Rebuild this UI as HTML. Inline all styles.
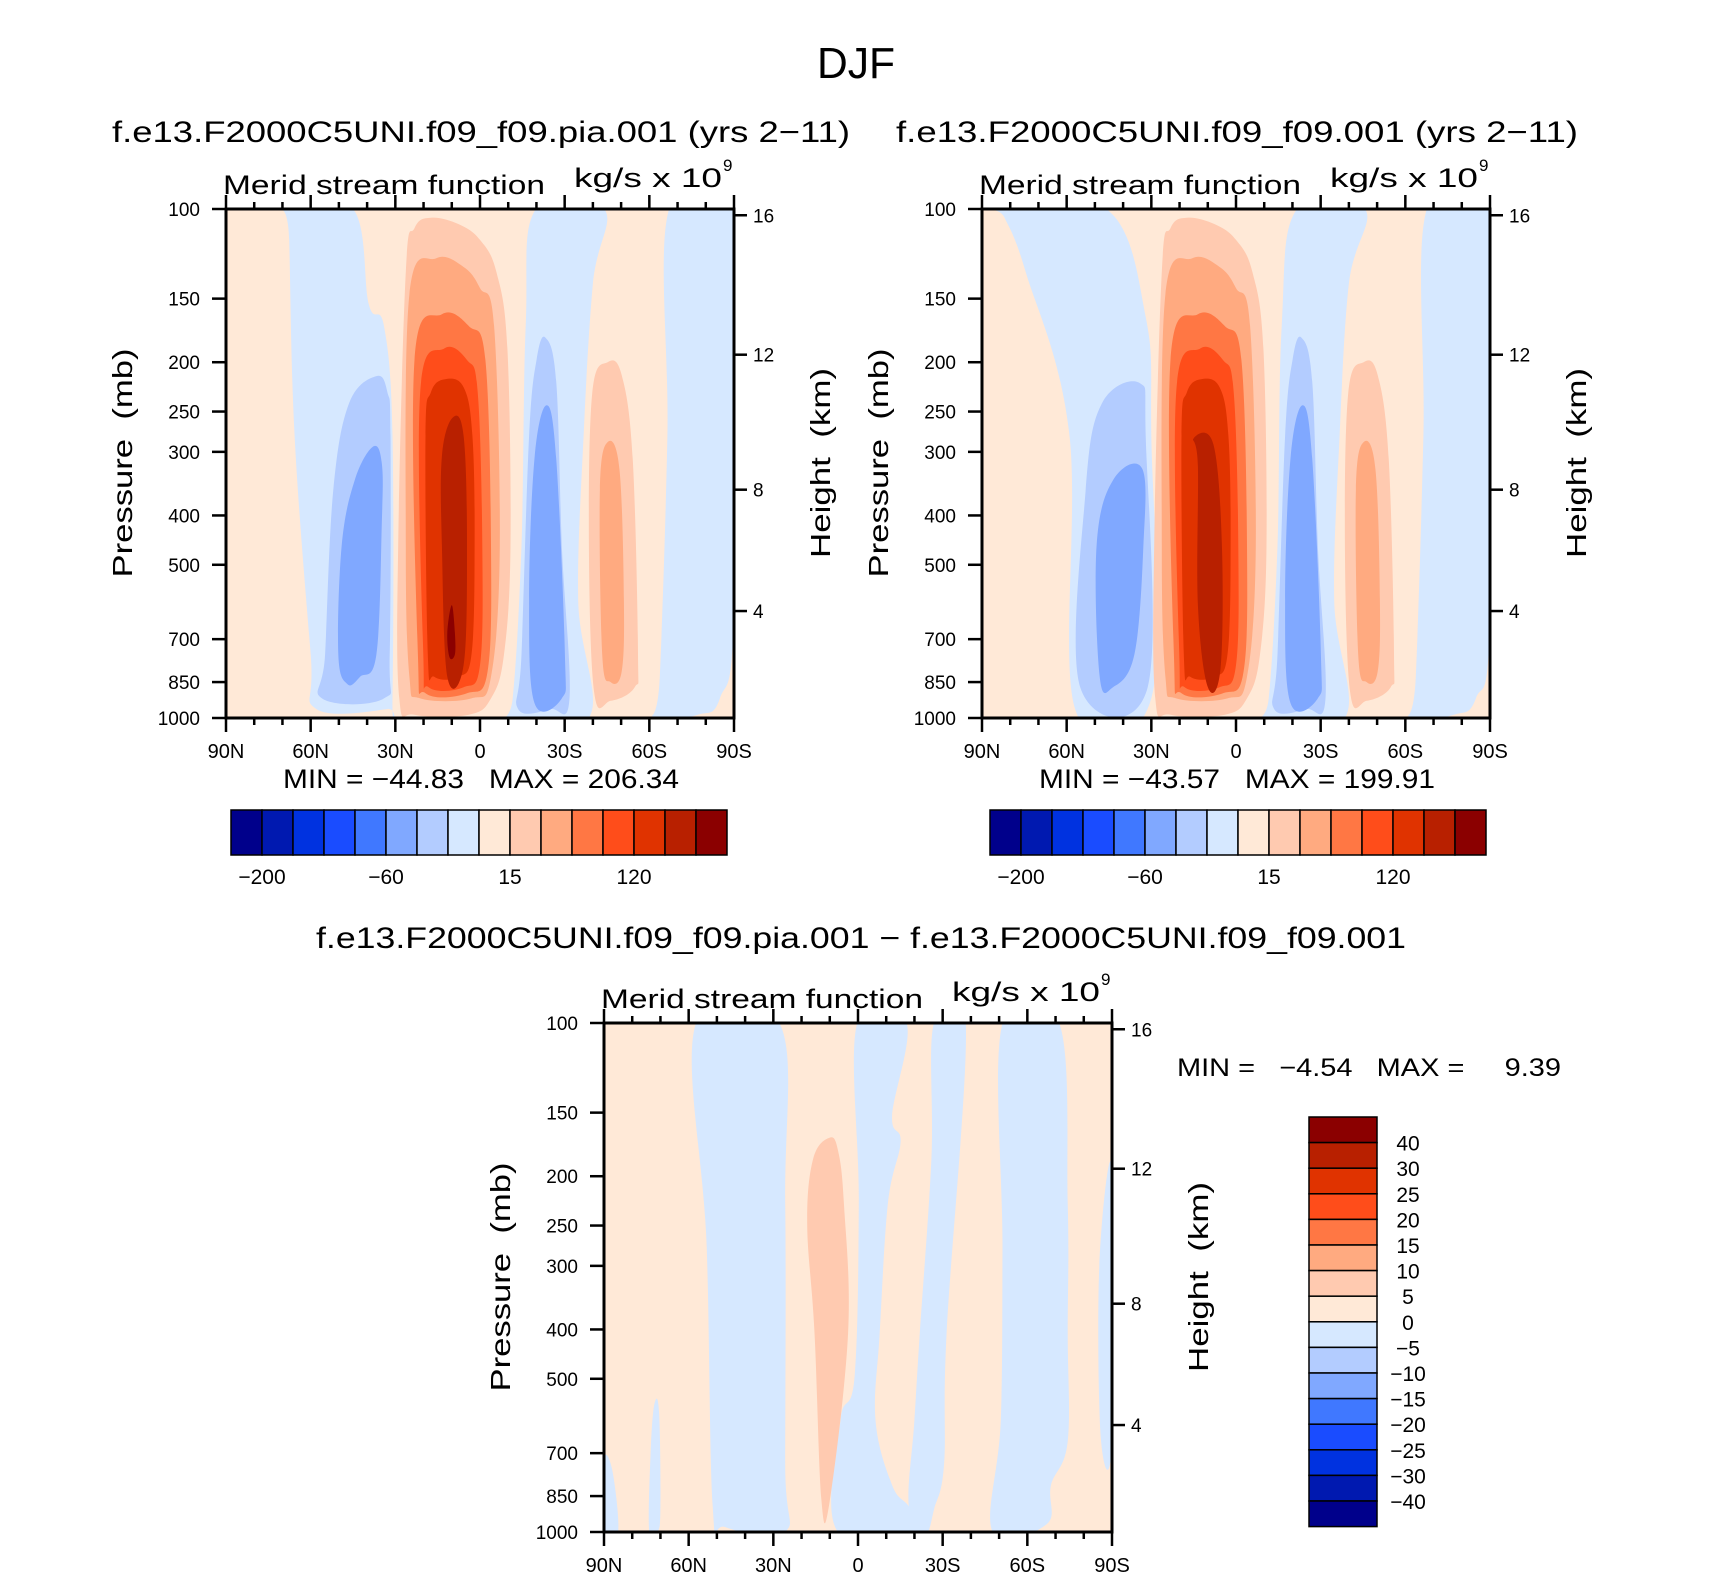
<!DOCTYPE html>
<html>
<head>
<meta charset="utf-8">
<style>
html,body{margin:0;padding:0;background:#fff;}
svg{display:block;font-family:"Liberation Sans",sans-serif;}
text{white-space:pre;}
</style>
</head>
<body>
<svg id="fig" width="1710" height="1579" viewBox="0 0 1710 1579" xmlns="http://www.w3.org/2000/svg" xml:space="preserve">
<rect x="0" y="0" width="1710" height="1579" fill="#fff"/>
<text x="856" y="78" font-size="44" text-anchor="middle" textLength="78" lengthAdjust="spacingAndGlyphs">DJF</text>
<text x="112" y="142" font-size="30" textLength="738" lengthAdjust="spacingAndGlyphs">f.e13.F2000C5UNI.f09_f09.pia.001 (yrs 2−11)</text>
<text x="896" y="142" font-size="30" textLength="682" lengthAdjust="spacingAndGlyphs">f.e13.F2000C5UNI.f09_f09.001 (yrs 2−11)</text>
<text x="316" y="948" font-size="30" textLength="1090" lengthAdjust="spacingAndGlyphs">f.e13.F2000C5UNI.f09_f09.pia.001 − f.e13.F2000C5UNI.f09_f09.001</text>
<text x="283" y="788" font-size="27" textLength="396" lengthAdjust="spacingAndGlyphs">MIN = −44.83   MAX = 206.34</text>
<text x="1039" y="788" font-size="27" textLength="396" lengthAdjust="spacingAndGlyphs">MIN = −43.57   MAX = 199.91</text>
<text x="1177" y="1076" font-size="25" textLength="384" lengthAdjust="spacingAndGlyphs">MIN =   −4.54   MAX =     9.39</text>
<g id="layer"></g>
</svg>
<script>
// ---- colour levels ----
const levelColors = ['#00008b','#0019b0','#0032e0','#1a4cff','#4078ff','#80a8ff','#b3ccff','#d6e8ff','#ffe9d7','#ffcab0','#ffaa80','#ff7744','#ff4d1a','#e03300','#b82000','#8b0000'];
const absCbarLabels = ['−200','−60','15','120'];
const absCbarLabelBoundaries = [1,5,9,13];
const diffCbarLabels = ['40','30','25','20','15','10','5','0','−5','−10','−15','−20','−25','−30','−40'];
const latTicks = [90,60,30,0,-30,-60,-90];
const latTickLabels = ['90N','60N','30N','0','30S','60S','90S'];
const pTicks = [100,150,200,250,300,400,500,700,850,1000];
const zTicks = [4,8,12,16];

// ---- contour regions: [lat, pressure(mb)] ----
const p1Levels = [7,7,7,6,5,6,5,9,10,9,10,11,12,13,14,15];
const p1Regions = [
 [[68,100],[45,100],[39.4,154],[34,170],[31,279],[31,915],[32.8,960],[58,960],[60,750],[65.7,279],[67.6,115]],
 [[-19.8,100],[-44,100],[-40,140],[-36.7,279],[-34.8,588],[-38.6,1000],[-8.5,1000],[-11.6,915],[-14.7,458],[-16.2,170]],
 [[-67,100],[-90,100],[-90,617],[-85,915],[-77.2,985],[-61.8,1000],[-63.7,830],[-66.4,279]],
 [[36.7,213],[46.4,241],[52,358],[54.9,750],[56,915],[34,915],[32,750],[31.7,279],[32.8,229]],
 [[37.9,293],[44.4,341],[49,458],[50.2,750],[47,858],[42.5,830],[36.7,750],[34.8,415],[34.8,316]],
 [[-23.2,179],[-27,218],[-29,458],[-31.7,915],[-25,960],[-13.5,960],[-14.7,750],[-17.4,279],[-20.1,197]],
 [[-23.6,243],[-27,309],[-30.1,750],[-29,915],[-19.3,935],[-17.4,586],[-19.3,309]],
 [[-45.2,200],[-50.2,212],[-54.1,309],[-56,750],[-54.8,870],[-46.3,925],[-40.5,894],[-38.6,458],[-39.8,229]],
 [[-45.2,287],[-49.4,324],[-51,586],[-50.2,810],[-46.3,850],[-43.3,750],[-42.5,355]],
 [[17.4,104],[7.7,107],[0,115],[-5.8,133],[-9.7,188],[-10.8,458],[-8.5,750],[-3.9,915],[3.9,985],[23.2,985],[28.6,915],[29,458],[26.3,133],[23.2,109]],
 [[15.5,125],[5.8,130],[0,143],[-5,170],[-7,458],[-3.9,830],[3,915],[21.2,915],[25,830],[26.3,458],[25,147]],
 [[13.5,161],[3.9,170],[-1.9,198],[-3.9,458],[-2.7,810],[4.6,894],[19.3,894],[22,750],[23.2,198]],
 [[12.7,188],[4.6,198],[0.8,229],[-0.8,458],[0,787],[5.8,870],[18.2,870],[20.1,750],[21.2,229]],
 [[12.4,216],[5.8,224],[2.7,279],[1.9,458],[3,750],[7.7,830],[16.2,830],[18.5,750],[19.3,279],[17.4,229]],
 [[9.7,257],[5.8,279],[4.6,458],[5.8,787],[11.6,830],[13.5,458],[13.5,306]],
 [[10,600],[8.9,680],[8.9,750],[10.8,760],[11.6,680]]
];
const p2Levels = [7,7,7,6,5,6,5,9,10,9,10,11,12,13,14];
const p2Regions = [
 [[84.6,100],[46,100],[32,163],[30,279],[30,915],[57,960],[59,279],[74.5,133],[82,104]],
 [[-21.6,100],[-45.7,100],[-40,140],[-36.7,279],[-34.8,588],[-38.6,1000],[-8.5,1000],[-11.6,915],[-14.7,458],[-16.2,170]],
 [[-67.6,100],[-90,100],[-90,640],[-85,915],[-77.2,985],[-61.8,1000],[-63.7,830],[-66.4,279]],
 [[34,220],[47.5,241],[53.3,358],[55.2,870],[31.3,870],[32,279]],
 [[33.2,324],[43.6,341],[49.4,458],[48.3,830],[43.6,870],[36,750],[32.8,458]],
 [[-23.2,179],[-27,218],[-29,458],[-31.7,915],[-25,960],[-13.5,960],[-14.7,750],[-17.4,279],[-20.1,197]],
 [[-23.6,243],[-27,309],[-30.1,750],[-29,915],[-19.3,935],[-17.4,586],[-19.3,309]],
 [[-45.2,200],[-50.2,212],[-54.1,309],[-56,750],[-54.8,870],[-46.3,925],[-40.5,894],[-38.6,458],[-39.8,229]],
 [[-45.2,287],[-49.4,324],[-51,586],[-50.2,810],[-46.3,850],[-43.3,750],[-42.5,355]],
 [[17.4,104],[7.7,107],[0,115],[-5.8,133],[-9.7,188],[-10.8,458],[-8.5,750],[-3.9,915],[3.9,985],[23.2,985],[28.6,915],[29,458],[26.3,133],[23.2,109]],
 [[15.5,125],[5.8,130],[0,143],[-5,170],[-7,458],[-3.9,830],[3,915],[21.2,915],[25,830],[26.3,458],[25,147]],
 [[13.5,161],[3.9,170],[-1.9,198],[-3.9,458],[-2.7,810],[4.6,894],[19.3,894],[22,750],[23.2,198]],
 [[12.7,188],[4.6,198],[0.8,229],[-0.8,458],[0,787],[5.8,870],[18.2,870],[20.1,750],[21.2,229]],
 [[12.4,216],[5.8,224],[2.7,279],[1.9,458],[3,750],[7.7,830],[16.2,830],[18.5,750],[19.3,279],[17.4,229]],
 [[15,282],[8,290],[5,458],[5.5,800],[10,869],[13.5,600],[13.5,320]]
];
const p3Levels = [7,7,7,7,7,7,7,9];
const p3Regions = [
 [[57.4,100],[27.8,100],[25.8,226],[25.8,734],[25.8,1000],[47,978],[51.5,890],[53.6,275]],
 [[72.2,563],[70.5,580],[70,890],[71,1000],[74,1000],[73.5,700]],
 [[90,720],[87,760],[85,1000],[90,1000]],
 [[0.3,100],[-17.2,100],[-12.1,152],[-15.1,171],[-10.6,226],[-7.7,406],[-6.2,603],[-12.1,809],[-18,890],[-24,1000],[7.1,1000],[6.2,603],[1.2,495],[-0.3,226]],
 [[-26.9,100],[-38.2,100],[-31.4,406],[-30.5,734],[-27,900],[-24,1000],[-18,890],[-20,603],[-21.9,406],[-26,185]],
 [[-51.2,100],[-71.3,100],[-74.3,226],[-74.3,406],[-74.3,664],[-68.4,809],[-66.9,965],[-47.7,1000],[-50.6,603],[-51.2,275]],
 [[-90,193],[-90,664],[-86,650],[-85.5,300]],
 [[10.1,168],[7.1,178],[5,226],[3.5,406],[10.1,875],[13,860],[15.4,406],[18,249],[15.9,185]]
];

const NS='http://www.w3.org/2000/svg';
const layer=document.getElementById('layer');
function mk(tag,attrs,parent){const e=document.createElementNS(NS,tag);for(const k in attrs)e.setAttribute(k,attrs[k]);(parent||layer).appendChild(e);return e;}
function zToP(z){const m=z*1000;if(m<=11000)return 1013.25*Math.pow(1-2.25577e-5*m,5.25588);return 226.32*Math.exp(-(m-11000)/6341.6);}
function smoothPath(P){
  const n=P.length;let d='M'+P[0][0].toFixed(1)+','+P[0][1].toFixed(1);
  for(let i=0;i<n;i++){
    const p0=P[(i-1+n)%n],p1=P[i],p2=P[(i+1)%n],p3=P[(i+2)%n];
    const t=0.18;
    const c1=[p1[0]+(p2[0]-p0[0])*t,p1[1]+(p2[1]-p0[1])*t];
    const c2=[p2[0]-(p3[0]-p1[0])*t,p2[1]-(p3[1]-p1[1])*t];
    d+='C'+c1[0].toFixed(1)+','+c1[1].toFixed(1)+' '+c2[0].toFixed(1)+','+c2[1].toFixed(1)+' '+p2[0].toFixed(1)+','+p2[1].toFixed(1);
  }
  return d+'Z';
}

function drawPanel(id,ox,oy,levels,regions){
  const W=508,H=509;
  const xOf=lat=>ox+(90-lat)/180*W;
  const yOf=p=>oy+(Math.log10(p)-2)*H;
  const g=mk('g',{});
  
  
  const bg=mk('rect',{x:ox,y:oy,width:W,height:H,fill:levelColors[8]},g);
  
  
  const cp=mk('clipPath',{id:id+'clip'},g);
  mk('rect',{x:ox,y:oy,width:W,height:H},cp);
  const rg=mk('g',{'clip-path':'url(#'+id+'clip)'},g);
  regions.forEach((pts,i)=>{
    const P=pts.map(q=>[xOf(q[0]),yOf(q[1])]);
    const path=mk('path',{d:smoothPath(P),fill:levelColors[levels[i]]},rg);
    
    
  });
  const fr=mk('rect',{x:ox,y:oy,width:W,height:H,fill:'none',stroke:'#000','stroke-width':3},g);
  
  
  for(let lat=90;lat>=-90;lat-=10){
    const x=xOf(lat);const major=lat%30===0;const L=major?14:7;
    mk('line',{x1:x,y1:oy+H,x2:x,y2:oy+H+L,stroke:'#000','stroke-width':2.5},g);
    mk('line',{x1:x,y1:oy,x2:x,y2:oy-L,stroke:'#000','stroke-width':2.5},g);
  }
  latTicks.forEach((lat,i)=>{
    const t=mk('text',{x:xOf(lat),y:oy+H+40,'font-size':20,'text-anchor':'middle'},g);
    t.textContent=latTickLabels[i];
    
    
  });
  pTicks.forEach(p=>{
    const y=yOf(p);
    mk('line',{x1:ox-14,y1:y,x2:ox,y2:y,stroke:'#000','stroke-width':2.5},g);
    const t=mk('text',{x:ox-26,y:y+7,'font-size':19,'text-anchor':'end'},g);
    t.textContent=p;
    
    
  });
  zTicks.forEach(z=>{
    const y=yOf(zToP(z));
    mk('line',{x1:ox+W,y1:y,x2:ox+W+13,y2:y,stroke:'#000','stroke-width':2.5},g);
    const t=mk('text',{x:ox+W+19,y:y+7,'font-size':19},g);
    t.textContent=z;
    
    
  });
  const yt=mk('text',{x:0,y:0,'font-size':28,'text-anchor':'middle',transform:`translate(${ox-94},${oy+254}) rotate(-90)`,textLength:229,lengthAdjust:'spacingAndGlyphs'},g);
  yt.textContent='Pressure  (mb)';
  
  
  const ht=mk('text',{x:0,y:0,'font-size':28,'text-anchor':'middle',transform:`translate(${ox+W+96},${oy+254}) rotate(-90)`,textLength:190,lengthAdjust:'spacingAndGlyphs'},g);
  ht.textContent='Height  (km)';
  
  
  const lt=mk('text',{x:ox-3,y:oy-15,'font-size':27,textLength:322,lengthAdjust:'spacingAndGlyphs'},g);
  lt.textContent='Merid stream function';
  
  
  const ut=mk('text',{x:ox+348,y:oy-22,'font-size':27,textLength:148,lengthAdjust:'spacingAndGlyphs'},g);
  ut.textContent='kg/s x 10';
  
  
  const sp=mk('text',{x:ox+497,y:oy-38,'font-size':17},g);
  sp.textContent='9';
  
  
}

function drawHCbar(id,x0,y0){
  const bw=31,bh=45;
  for(let i=0;i<16;i++){
    const r=mk('rect',{x:x0+i*bw,y:y0,width:bw,height:bh,fill:levelColors[i],stroke:'#000','stroke-width':1.5});
    
    
  }
  absCbarLabels.forEach((s,i)=>{
    const t=mk('text',{x:x0+absCbarLabelBoundaries[i]*bw,y:y0+74,'font-size':21,'text-anchor':'middle'});
    t.textContent=s;
    
    
  });
}
function drawVCbar(id,x0,y0){
  const bw=68,bh=25.6;
  for(let i=0;i<16;i++){
    const r=mk('rect',{x:x0,y:y0+i*bh,width:bw,height:bh,fill:levelColors[15-i],stroke:'#000','stroke-width':1.5});
    
    
  }
  diffCbarLabels.forEach((s,i)=>{
    const t=mk('text',{x:x0+99,y:y0+(i+1)*bh+8,'font-size':21,'text-anchor':'middle'});
    t.textContent=s;
    
    
  });
}

drawPanel('panel1',226,209,p1Levels,p1Regions);
drawPanel('panel2',982,209,p2Levels,p2Regions);
drawPanel('diff',604,1023,p3Levels,p3Regions);
drawHCbar('panel1',231,810);
drawHCbar('panel2',990,810);
drawVCbar('diff',1309,1117);
</script>
</body>
</html>
